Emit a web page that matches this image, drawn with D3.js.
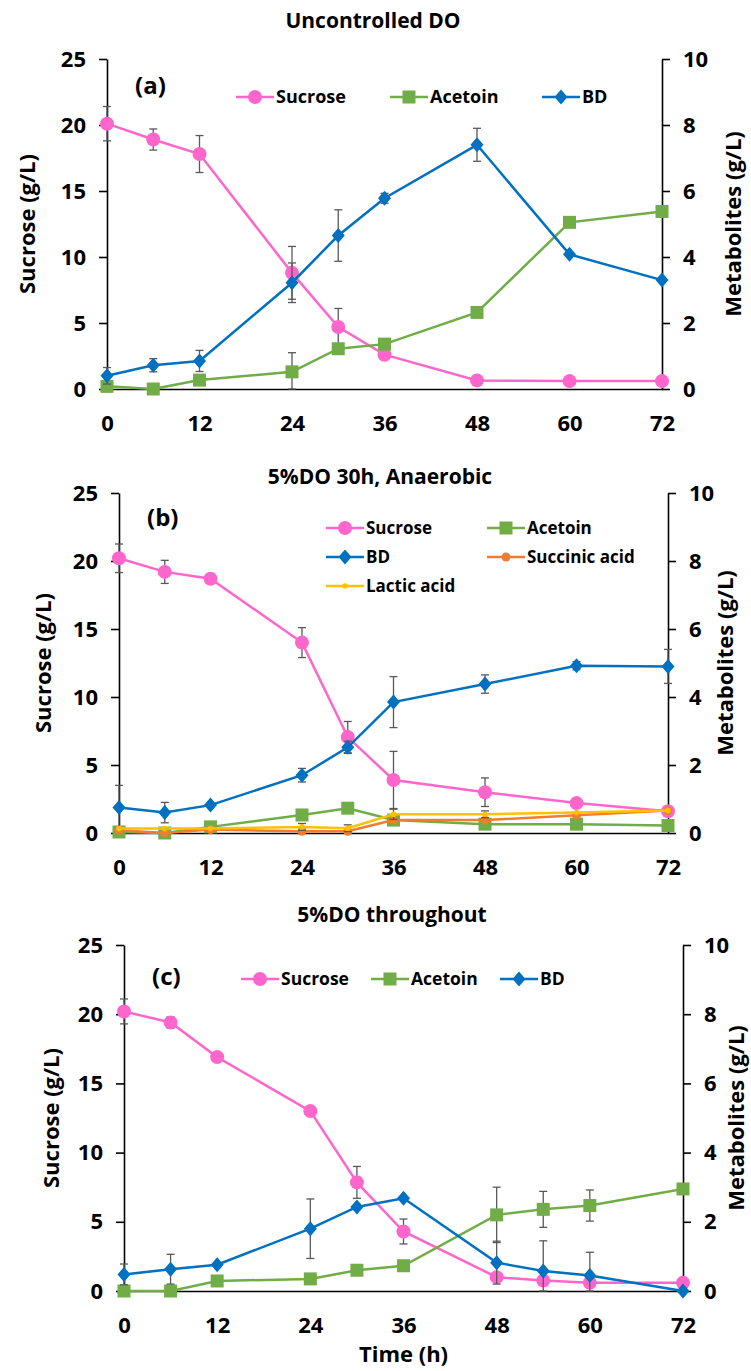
<!DOCTYPE html>
<html>
<head>
<meta charset="utf-8">
<script src="https://cdnjs.cloudflare.com/ajax/libs/d3/7.8.5/d3.min.js"></script>
<style>
  body { margin: 0; background: #fff; }
  text { font-family: "Open Sans", sans-serif; font-weight: 700; fill: #000; }
</style>
</head>
<body>
<div id="chart"></div>
<script>
// (a) Uncontrolled DO
var timeA = [0, 6, 12, 24, 30, 36, 48, 60, 72];
var sucroseA = [20.1, 18.9, 17.8, 8.8, 4.7, 2.6, 0.65, 0.6, 0.6];
var sucroseErrA = [1.3, 0.8, 1.4, 2.0, 1.4, 0, 0, 0, 0];
var acetoinA = [0.08, 0, 0.27, 0.52, 1.22, 1.36, 2.32, 5.05, 5.38];
var acetoinErrA = [0, 0, 0, 0.58, 0, 0, 0, 0, 0];
var bdA = [0.4, 0.72, 0.85, 3.22, 4.65, 5.78, 7.4, 4.08, 3.3];
var bdErrA = [0.25, 0.2, 0.32, 0.6, 0.78, 0.15, 0.5, 0, 0];

// (b) 5%DO 30h, Anaerobic
var timeB = [0, 6, 12, 24, 30, 36, 48, 60, 72];
var sucroseB = [20.2, 19.2, 18.7, 14.0, 7.05, 3.9, 3.0, 2.2, 1.6];
var sucroseErrB = [1.05, 0.85, 0, 1.1, 1.15, 2.1, 1.05, 0, 0];
var acetoinB = [0.03, 0, 0.18, 0.53, 0.73, 0.38, 0.26, 0.26, 0.22];
var bdB = [0.75, 0.6, 0.82, 1.7, 2.52, 3.85, 4.38, 4.92, 4.9];
var bdErrB = [0.65, 0.3, 0, 0.2, 0.18, 0.75, 0.27, 0.12, 0.5];
var succinicB = [0.08, 0, 0.1, 0.05, 0.05, 0.38, 0.38, 0.52, 0.66];
var lacticB = [0.13, 0.13, 0.13, 0.18, 0.14, 0.55, 0.55, 0.6, 0.66];
var lacticErrB = [0, 0, 0, 0.1, 0.1, 0.15, 0.1, 0, 0];

// (c) 5%DO throughout
var timeC = [0, 6, 12, 24, 30, 36, 48, 54, 60, 72];
var sucroseC = [20.2, 19.4, 16.9, 13.0, 7.85, 4.3, 1.0, 0.75, 0.6, 0.6];
var sucroseErrC = [0.9, 0.4, 0, 0, 1.15, 0.9, 0, 0, 0, 0];
var acetoinC = [0, 0, 0.29, 0.35, 0.6, 0.73, 2.2, 2.36, 2.47, 2.95];
var acetoinErrC = [0, 0, 0, 0, 0, 0, 0.8, 0.52, 0.45, 0];
var bdC = [0.48, 0.63, 0.76, 1.8, 2.43, 2.68, 0.82, 0.58, 0.45, 0];
var bdErrC = [0.3, 0.43, 0, 0.86, 0, 0, 0.62, 0.87, 0.67, 0];

var xTicks = [0, 12, 24, 36, 48, 60, 72];
var sucroseTicks = [0, 5, 10, 15, 20, 25];
var metaboliteTicks = [0, 2, 4, 6, 8, 10];

var width = 751, height = 1371;

var svg = d3.select("#chart")
    .append("svg")
    .attr("width", width)
    .attr("height", height);

svg.append("rect")
    .attr("width", width)
    .attr("height", height)
    .attr("fill", "#fff");

// marker styles per series
var styles = {
    "Sucrose": { color: "#FF66CC", shape: "circle", size: 7 },
    "Acetoin": { color: "#70AD47", shape: "square", size: 6.5 },
    "BD": { color: "#0070C0", shape: "diamond", size: 7.5 },
    "Succinic acid": { color: "#ED7D31", shape: "circle", size: 4.5 },
    "Lactic acid": { color: "#FFC000", shape: "circle", size: 2.8 }
};

function drawMarker(g, name, x, y) {
    var s = styles[name];
    if (s.shape == "circle") {
        g.append("circle").attr("cx", x).attr("cy", y).attr("r", s.size).attr("fill", s.color);
    } else if (s.shape == "square") {
        g.append("rect").attr("x", x - s.size).attr("y", y - s.size)
            .attr("width", s.size * 2).attr("height", s.size * 2).attr("fill", s.color);
    } else {
        g.append("path")
            .attr("d", "M" + x + "," + (y - s.size) + "L" + (x + s.size - 1) + "," + y +
                "L" + x + "," + (y + s.size) + "L" + (x - s.size + 1) + "," + y + "Z")
            .attr("fill", s.color);
    }
}

function buildPanel(p) {
    var g = svg.append("g");

    var x = d3.scaleLinear().domain([0, 72]).range([p.left, p.right]);
    var ySuc = d3.scaleLinear().domain([0, 25]).range([p.bottom, p.top]);
    var yMet = d3.scaleLinear().domain([0, 10]).range([p.bottom, p.top]);

    // axes
    var leftAxis = g.append("g")
        .attr("transform", "translate(" + p.left + ",0)")
        .call(d3.axisLeft(ySuc).tickValues(sucroseTicks).tickSize(8).tickSizeOuter(0).tickPadding(13));
    var rightAxis = g.append("g")
        .attr("transform", "translate(" + p.right + ",0)")
        .call(d3.axisRight(yMet).tickValues(metaboliteTicks).tickSize(8).tickSizeOuter(0).tickPadding(13));
    var bottomAxis = g.append("g")
        .attr("transform", "translate(0," + p.bottom + ")")
        .call(d3.axisBottom(x).tickValues(xTicks).tickSize(0).tickPadding(26));

    [leftAxis, rightAxis, bottomAxis].forEach(function(a) {
        a.selectAll("path, line").attr("stroke", "#000").attr("stroke-width", 1.6);
        a.selectAll("text").style("font-size", "22px").style("font-family", '"Open Sans", sans-serif')
            .style("font-weight", 700).attr("fill", "#000");
    });

    // titles
    g.append("text").attr("x", p.titleX).attr("y", p.titleY).attr("dy", "0.35em")
        .attr("text-anchor", "middle").style("font-size", "21px").text(p.title);
    g.append("text").attr("x", p.left + 28).attr("y", p.tagY).attr("dy", "0.35em")
        .style("font-size", "24px").text(p.tag);

    g.append("text")
        .attr("transform", "translate(" + p.leftTitleX + "," + (p.top + p.bottom) / 2 + ") rotate(-90)")
        .attr("dy", "0.35em").attr("text-anchor", "middle")
        .style("font-size", "22px").text("Sucrose (g/L)");
    g.append("text")
        .attr("transform", "translate(" + p.rightTitleX + "," + (p.top + p.bottom) / 2 + ") rotate(-90)")
        .attr("dy", "0.35em").attr("text-anchor", "middle")
        .style("font-size", "22px").text("Metabolites (g/L)");

    // series
    p.series.forEach(function(s) {
        var y = s.axis == "left" ? ySuc : yMet;
        var pts = p.time.map(function(t, i) {
            return { t: t, v: s.values[i], e: s.errors ? s.errors[i] : 0 };
        });
        var sg = g.append("g");

        // error bars
        pts.filter(function(d) { return d.e > 0; }).forEach(function(d) {
            var cx = x(d.t), y1 = y(d.v + d.e), y2 = y(Math.max(0, d.v - d.e));
            sg.append("line").attr("x1", cx).attr("x2", cx).attr("y1", y1).attr("y2", y2)
                .attr("stroke", "#595959").attr("stroke-width", 1.3);
            [y1, y2].forEach(function(yy) {
                sg.append("line").attr("x1", cx - 4).attr("x2", cx + 4).attr("y1", yy).attr("y2", yy)
                    .attr("stroke", "#595959").attr("stroke-width", 1.3);
            });
        });

        sg.append("path")
            .datum(pts)
            .attr("fill", "none")
            .attr("stroke", styles[s.name].color)
            .attr("stroke-width", 2.5)
            .attr("d", d3.line().x(function(d) { return x(d.t); }).y(function(d) { return y(d.v); }));

        pts.forEach(function(d) { drawMarker(sg, s.name, x(d.t), y(d.v)); });
    });

    // legend
    p.legend.forEach(function(l) {
        var lg = g.append("g");
        lg.append("line").attr("x1", l.x).attr("x2", l.x + 38).attr("y1", l.y).attr("y2", l.y)
            .attr("stroke", styles[l.name].color).attr("stroke-width", 2.5);
        drawMarker(lg, l.name, l.x + 19, l.y);
        lg.append("text").attr("x", l.x + 40).attr("y", l.y).attr("dy", "0.35em")
            .style("font-size", p.legendSize + "px").text(l.name);
    });

    if (p.xTitle) {
        g.append("text").attr("x", (p.left + p.right) / 2).attr("y", p.bottom + 63).attr("dy", "0.35em")
            .attr("text-anchor", "middle").style("font-size", "22px").text(p.xTitle);
    }
}

buildPanel({
    left: 107, right: 662, top: 59, bottom: 389,
    title: "Uncontrolled DO", titleX: 373, titleY: 21, tag: "(a)", tagY: 86,
    leftTitleX: 27, rightTitleX: 733, legendSize: 18,
    time: timeA,
    series: [
        { name: "Sucrose", axis: "left", values: sucroseA, errors: sucroseErrA },
        { name: "Acetoin", axis: "right", values: acetoinA, errors: acetoinErrA },
        { name: "BD", axis: "right", values: bdA, errors: bdErrA }
    ],
    legend: [
        { name: "Sucrose", x: 236, y: 97 },
        { name: "Acetoin", x: 390, y: 97 },
        { name: "BD", x: 542, y: 97 }
    ]
});

buildPanel({
    left: 119, right: 668, top: 493, bottom: 833,
    title: "5%DO 30h, Anaerobic", titleX: 380, titleY: 477, tag: "(b)", tagY: 518,
    leftTitleX: 43, rightTitleX: 725, legendSize: 17,
    time: timeB,
    series: [
        { name: "Sucrose", axis: "left", values: sucroseB, errors: sucroseErrB },
        { name: "Acetoin", axis: "right", values: acetoinB },
        { name: "BD", axis: "right", values: bdB, errors: bdErrB },
        { name: "Succinic acid", axis: "right", values: succinicB },
        { name: "Lactic acid", axis: "right", values: lacticB, errors: lacticErrB }
    ],
    legend: [
        { name: "Sucrose", x: 326, y: 528 },
        { name: "Acetoin", x: 487, y: 528 },
        { name: "BD", x: 326, y: 557 },
        { name: "Succinic acid", x: 487, y: 557 },
        { name: "Lactic acid", x: 326, y: 586 }
    ]
});

buildPanel({
    left: 124, right: 683, top: 945, bottom: 1291,
    title: "5%DO throughout", titleX: 392, titleY: 915, tag: "(c)", tagY: 977,
    leftTitleX: 51, rightTitleX: 736, legendSize: 17.5,
    time: timeC, xTitle: "Time (h)",
    series: [
        { name: "Sucrose", axis: "left", values: sucroseC, errors: sucroseErrC },
        { name: "Acetoin", axis: "right", values: acetoinC, errors: acetoinErrC },
        { name: "BD", axis: "right", values: bdC, errors: bdErrC }
    ],
    legend: [
        { name: "Sucrose", x: 241, y: 979 },
        { name: "Acetoin", x: 371, y: 979 },
        { name: "BD", x: 500, y: 979 }
    ]
});
</script>
</body>
</html>
